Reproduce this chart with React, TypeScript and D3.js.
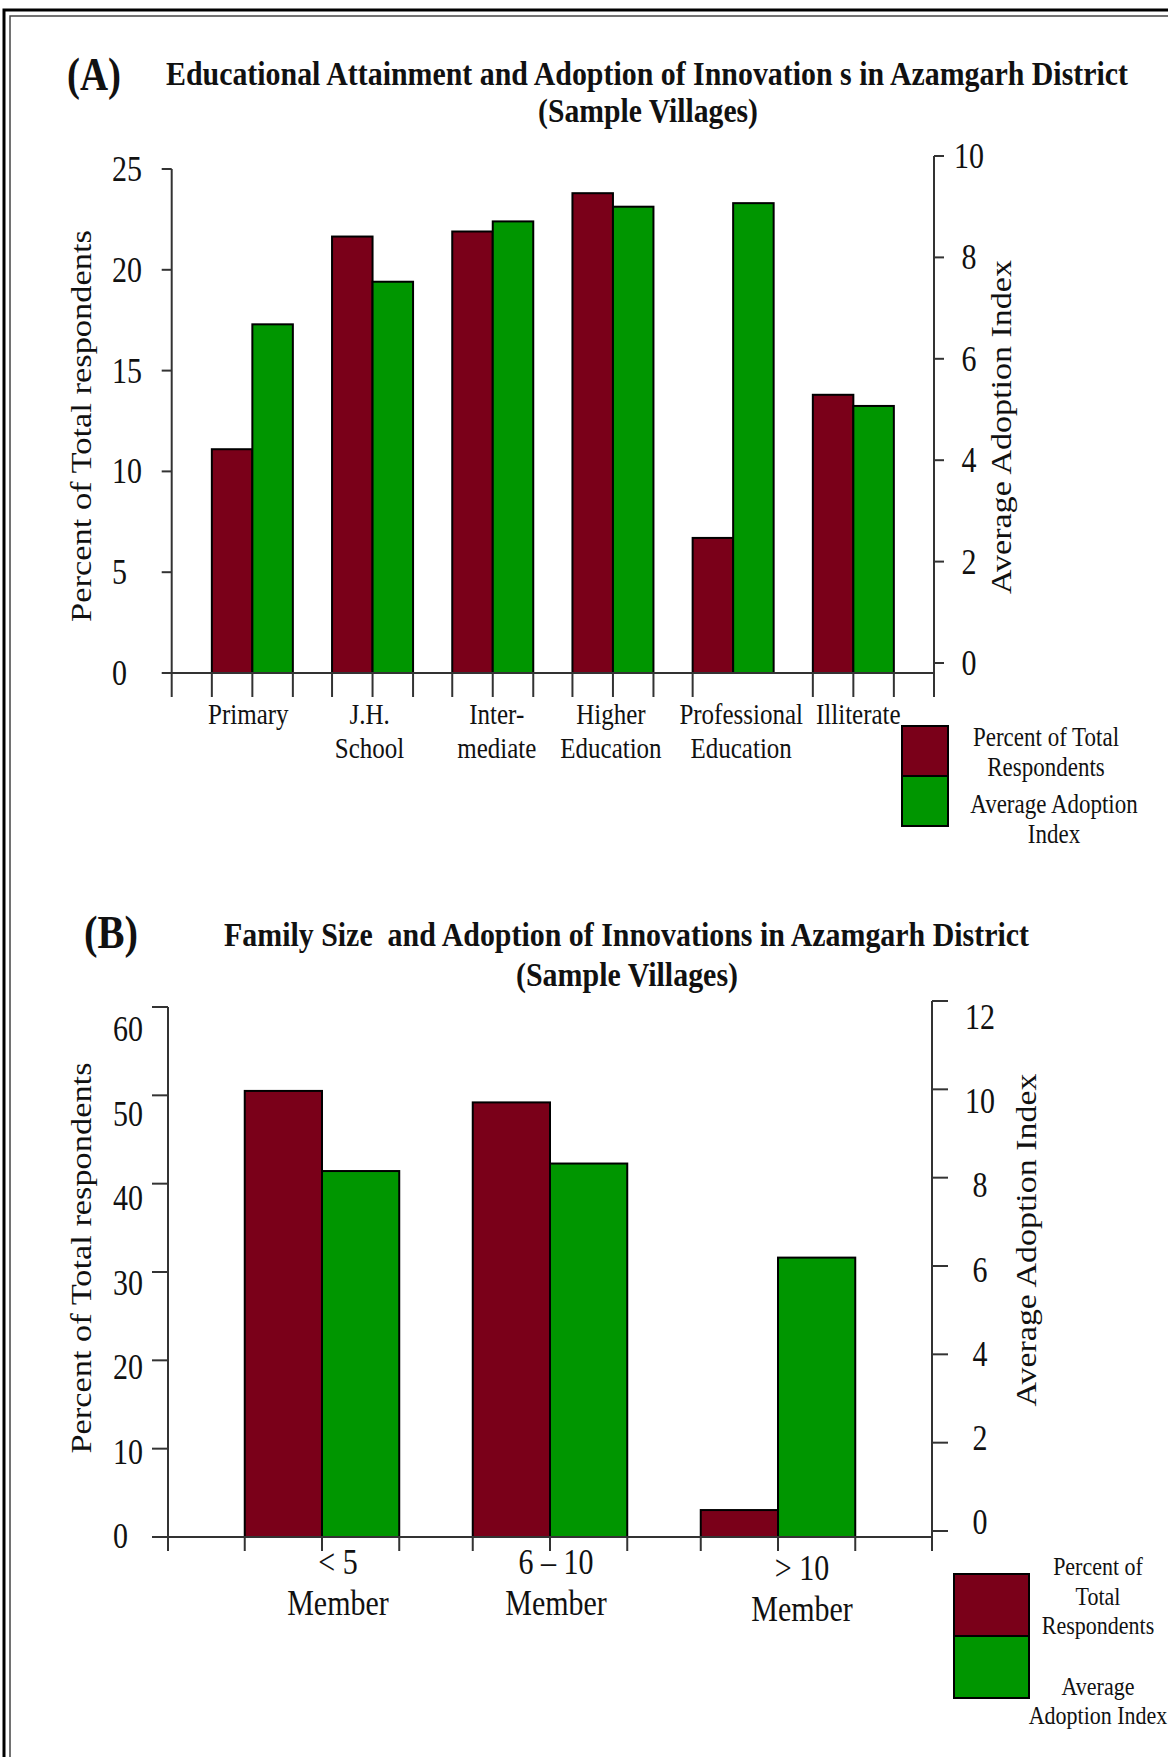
import * as d3 from 'd3';

const RED = '#7a0019';
const GREEN = '#009600';
const INK = '#111';
const AXIS = '#333';
const SY = 1.18; // the source figure is stretched vertically

// ---- (A) Educational attainment ----
const categoriesA = ['Primary', 'J.H. School', 'Intermediate', 'Higher Education', 'Professional Education', 'Illiterate'];
const labelLinesA = [['Primary'], ['J.H.', 'School'], ['Inter-', 'mediate'], ['Higher', 'Education'], ['Professional', 'Education'], ['Illiterate']];
const percentA = [11.1, 21.65, 21.9, 23.8, 6.7, 13.8];
const adoptionA = [6.68, 7.52, 8.71, 9.0, 9.07, 5.07];
const leftTicksA = [0, 5, 10, 15, 20, 25];
const rightTicksA = [0, 2, 4, 6, 8, 10];

// ---- (B) Family size ----
const categoriesB = ['< 5 Member', '6 – 10 Member', '> 10 Member'];
const labelLinesB = [['< 5', 'Member'], ['6 – 10', 'Member'], ['> 10', 'Member']];
const percentB = [50.5, 49.2, 3.05];
const adoptionB = [8.15, 8.32, 6.19];
const leftTicksB = [0, 10, 20, 30, 40, 50, 60];
const rightTicksB = [0, 2, 4, 6, 8, 10, 12];

const seriesNames = ['Percent of Total Respondents', 'Average Adoption Index'];

function Txt({ x, y, size, children, anchor = 'middle', bold = false, len }: any) {
  return (
    <text
      transform={`translate(${x},${y}) scale(1,${SY})`}
      fontSize={size}
      textAnchor={anchor}
      fontWeight={bold ? 'bold' : 'normal'}
      textLength={len}
      lengthAdjust={len ? 'spacingAndGlyphs' : undefined}
      fill={INK}
      style={{ whiteSpace: 'pre' }}
    >
      {children}
    </text>
  );
}

function VTxt({ x, y, size, len, children }: any) {
  return (
    <text
      transform={`translate(${x},${y}) rotate(-90)`}
      fontSize={size}
      textAnchor="middle"
      textLength={len}
      lengthAdjust="spacingAndGlyphs"
      fill={INK}
    >
      {children}
    </text>
  );
}

function DualChart({ cfg }: any) {
  const x = d3.scaleBand<string>().domain(cfg.categories).range(cfg.xRange).paddingInner(cfg.padIn).paddingOuter(cfg.padOut);
  const sub = d3.scaleBand<string>().domain(['pct', 'idx']).range([0, x.bandwidth()]);
  const yL = d3.scaleLinear().domain(cfg.leftDomain).range(cfg.leftRange);
  const yR = d3.scaleLinear().domain(cfg.rightDomain).range(cfg.rightRange);
  const yLL = d3.scaleLinear().domain(cfg.leftDomain).range(cfg.leftLabelRange || cfg.leftRange);
  const yRL = d3.scaleLinear().domain(cfg.rightDomain).range(cfg.rightLabelRange || cfg.rightRange);
  const base = yL(0);
  const [ax0, ax1] = cfg.xRange;
  const hidden = new Set(cfg.hiddenTicks || []);

  const edgeTicks: number[] = [];
  cfg.categories.forEach((c: string) => {
    const s = x(c)!;
    [['start', s], ['mid', s + sub.bandwidth()], ['end', s + x.bandwidth()]].forEach(([k, v]: any) => {
      if (!hidden.has(`${c}:${k}`)) edgeTicks.push(v);
    });
  });

  return (
    <g>
      {/* bars */}
      {cfg.categories.map((c: string, i: number) => (
        <g key={c}>
          <rect x={x(c)! + sub('pct')!} y={yL(cfg.pct[i])} width={sub.bandwidth()} height={base - yL(cfg.pct[i])}
            fill={RED} stroke="#000" strokeWidth={2} />
          <rect x={x(c)! + sub('idx')!} y={yR(cfg.idx[i])} width={sub.bandwidth()} height={base - yR(cfg.idx[i])}
            fill={GREEN} stroke="#000" strokeWidth={2} />
        </g>
      ))}

      {/* x axis */}
      <line x1={ax0} x2={ax1} y1={base} y2={base} stroke={AXIS} strokeWidth={2} />
      {edgeTicks.map((t, i) => (
        <line key={i} x1={t} x2={t} y1={base} y2={cfg.tickBottom} stroke={AXIS} strokeWidth={2} />
      ))}

      {/* left axis */}
      <line x1={ax0} x2={ax0} y1={yL(cfg.leftDomain[1])} y2={cfg.tickBottom} stroke={AXIS} strokeWidth={2} />
      {cfg.leftTicks.map((t: number) => (
        <g key={t}>
          <line x1={ax0 - cfg.leftTickLen} x2={ax0} y1={yL(t)} y2={yL(t)} stroke={AXIS} strokeWidth={2} />
          <Txt x={cfg.leftLabelX} y={yLL(t) + cfg.tickFont * 0.4} size={cfg.tickFont} anchor="start">{t}</Txt>
        </g>
      ))}

      {/* right axis */}
      <line x1={ax1} x2={ax1} y1={yR(cfg.rightDomain[1])} y2={cfg.tickBottom} stroke={AXIS} strokeWidth={2} />
      {cfg.rightTicks.map((t: number) => (
        <g key={t}>
          <line x1={ax1} x2={ax1 + cfg.rightTickLen} y1={yR(t)} y2={yR(t)} stroke={AXIS} strokeWidth={2} />
          <Txt x={cfg.rightLabelX} y={yRL(t) + cfg.tickFont * 0.4} size={cfg.tickFont}>{t}</Txt>
        </g>
      ))}

      {/* category labels */}
      {cfg.categories.map((c: string, i: number) =>
        cfg.lines[i].map((ln: string, j: number) => (
          <Txt key={c + j} x={x(c)! + x.bandwidth() / 2 + cfg.catNudge[i][0]} y={cfg.catBaselines[j] + cfg.catNudge[i][1]}
            size={cfg.catFont}>{ln}</Txt>
        ))
      )}

      {/* axis titles */}
      <VTxt x={cfg.leftTitle[0]} y={cfg.leftTitle[1]} size={29} len={cfg.leftTitle[2]}>Percent of Total respondents</VTxt>
      <VTxt x={cfg.rightTitle[0]} y={cfg.rightTitle[1]} size={29} len={cfg.rightTitle[2]}>Average Adoption Index</VTxt>

      {/* legend */}
      <rect x={cfg.legend.x} y={cfg.legend.y} width={cfg.legend.w} height={cfg.legend.h} fill={RED} stroke="#000" strokeWidth={2} />
      <rect x={cfg.legend.x} y={cfg.legend.y + cfg.legend.h} width={cfg.legend.w} height={cfg.legend.h} fill={GREEN} stroke="#000" strokeWidth={2} />
      {cfg.legend.texts.map((t: any, i: number) => (
        <Txt key={i} x={t[1]} y={t[2]} size={cfg.legend.font}>{t[0]}</Txt>
      ))}
    </g>
  );
}

export default function App() {
  const cfgA = {
    categories: categoriesA, lines: labelLinesA, pct: percentA, idx: adoptionA,
    xRange: [171.7, 934], padIn: 0.326, padOut: 0.334,
    leftDomain: [0, 25], leftRange: [673, 169],
    rightDomain: [0, 10], rightRange: [663, 156],
    leftTicks: leftTicksA, rightTicks: rightTicksA,
    tickBottom: 697, leftTickLen: 10, rightTickLen: 10,
    tickFont: 30, leftLabelX: 112, rightLabelX: 969,
    hiddenTicks: ['Professional Education:mid', 'Professional Education:end'],
    catFont: 25, catBaselines: [724, 758],
    catNudge: [[-4, 0], [-3, 0], [4, 0], [-2, 0], [8, 0], [5, 0]],
    leftTitle: [91, 426, 392], rightTitle: [1011, 427, 334],
    legend: {
      x: 902, y: 726, w: 46, h: 50, font: 23,
      texts: [
        ['Percent of Total', 1046, 746],
        ['Respondents', 1046, 776],
        ['Average Adoption', 1054, 813],
        ['Index', 1054, 843],
      ],
    },
  };

  const cfgB = {
    categories: categoriesB, lines: labelLinesB, pct: percentB, idx: adoptionB,
    xRange: [168, 932], padIn: 0.3224, padOut: 0.3366,
    leftDomain: [0, 60], leftRange: [1537, 1007], leftLabelRange: [1536, 1029],
    rightDomain: [0, 12], rightRange: [1531, 1001], rightLabelRange: [1522, 1017],
    leftTicks: leftTicksB, rightTicks: rightTicksB,
    tickBottom: 1551, leftTickLen: 16, rightTickLen: 16,
    tickFont: 30, leftLabelX: 113, rightLabelX: 980,
    catFont: 30, catBaselines: [1574, 1615],
    catNudge: [[16, 0], [6, 0], [24, 6]],
    leftTitle: [91, 1258, 391], rightTitle: [1036, 1240, 333],
    legend: {
      x: 954, y: 1574, w: 75, h: 62, font: 22,
      texts: [
        ['Percent of', 1098, 1575],
        ['Total', 1098, 1605],
        ['Respondents', 1098, 1634],
        ['Average', 1098, 1695],
        ['Adoption Index', 1098, 1724],
      ],
    },
  };

  return (
    <svg width={1168} height={1757} style={{ position: 'absolute', left: 0, top: 0, background: '#fff' }}
      fontFamily="'Liberation Serif', 'Times New Roman', serif" aria-label={seriesNames.join(' vs ')}>
      <rect width={1168} height={1757} fill="#fff" />
      {/* double frame */}
      <path d="M4,1757 V10 H1168" fill="none" stroke="#000" strokeWidth={3} />
      <path d="M10,1757 V16 H1168" fill="none" stroke="#444" strokeWidth={1.5} />

      {/* titles */}
      <Txt x={67} y={90} size={39} anchor="start" bold len={54}>(A)</Txt>
      <Txt x={166} y={85} size={29} anchor="start" bold len={962}>Educational Attainment and Adoption of Innovation s in Azamgarh District</Txt>
      <Txt x={648} y={122} size={29} bold len={220}>(Sample Villages)</Txt>

      <Txt x={84} y={948} size={39} anchor="start" bold len={54}>(B)</Txt>
      <Txt x={224} y={946} size={29} anchor="start" bold len={805}>Family Size  and Adoption of Innovations in Azamgarh District</Txt>
      <Txt x={627} y={986} size={29} bold len={222}>(Sample Villages)</Txt>

      <DualChart cfg={cfgA} />
      <DualChart cfg={cfgB} />
    </svg>
  );
}
